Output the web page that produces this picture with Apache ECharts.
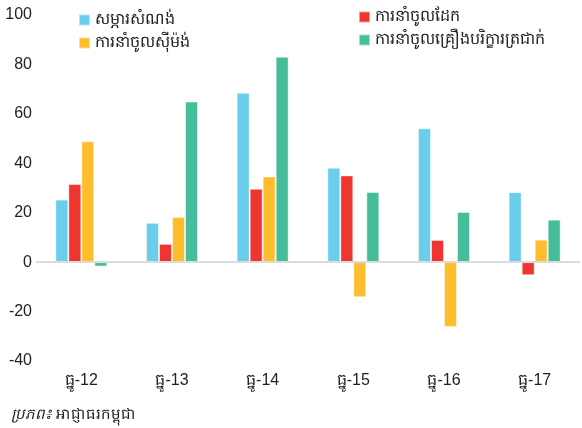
<!DOCTYPE html>
<html>
<head>
<meta charset="utf-8">
<script src="https://cdn.jsdelivr.net/npm/echarts@6/dist/echarts.min.js"></script>
<style>
html,body{margin:0;padding:0;background:#fff;}
#main{width:582px;height:428px;}
</style>
</head>
<body>
<div id="main"></div>
<script>
var months = ['ធ្នូ-12', 'ធ្នូ-13', 'ធ្នូ-14', 'ធ្នូ-15', 'ធ្នូ-16', 'ធ្នូ-17'];
var seriesNames = ['សម្ភារសំណង់', 'ការនាំចូលដែក', 'ការនាំចូលស៊ីម៉ង់', 'ការនាំចូលគ្រឿងបរិក្ខារត្រជាក់'];
var materials = [25.3, 15.9, 68.5, 38.2, 54.2, 28.3];
var steel = [31.6, 7.4, 29.7, 35.1, 9.0, -5.3];
var cement = [48.9, 18.3, 34.7, -14.2, -26.2, 9.1];
var cooling = [-1.8, 65.0, 83.1, 28.4, 20.3, 17.2];
var colors = ['#6acdeb', '#ee3530', '#fdbd2c', '#45bd9b'];

var myChart = echarts.init(document.getElementById('main'));
var values = [materials, steel, cement, cooling];
var series = [];
for (var i = 0; i < values.length; i++) {
    series.push({
        name: seriesNames[i],
        type: 'bar',
        data: values[i],
        barWidth: 13,
        barGap: '0%',
        itemStyle: {color: colors[i], borderColor: 'rgba(255,255,255,0.5)', borderWidth: 1}
    });
}
var legendText = {fontSize: 16, color: '#222', fontFamily: 'Liberation Sans'};
var option = {
    animation: false,
    textStyle: {fontFamily: 'Liberation Sans'},
    legend: [{
        data: [seriesNames[0], seriesNames[2]],
        orient: 'vertical',
        left: 73, top: 7,
        itemWidth: 11, itemHeight: 11, itemGap: 7,
        icon: 'rect',
        textStyle: legendText
    }, {
        data: [seriesNames[1], seriesNames[3]],
        orient: 'vertical',
        left: 353, top: 4,
        itemWidth: 11, itemHeight: 11, itemGap: 7,
        icon: 'rect',
        textStyle: legendText
    }],
    title: {
        text: '{i|ប្រភព៖} អាជ្ញាធរកម្ពុជា',
        left: 6, top: 402,
        textStyle: {
            fontSize: 15, fontWeight: 'normal', color: '#222', fontFamily: 'Liberation Sans',
            rich: {i: {fontSize: 15, fontStyle: 'italic', color: '#222', fontFamily: 'Liberation Sans'}}
        }
    },
    grid: {left: 36, right: 2, top: 15, bottom: 67, containLabel: false},
    xAxis: {
        type: 'category',
        data: months,
        axisLine: {show: false},
        axisTick: {show: false},
        axisLabel: {fontSize: 16, color: '#222', margin: 12, fontFamily: 'Liberation Sans'}
    },
    yAxis: {
        type: 'value',
        min: -40, max: 100, interval: 20,
        splitLine: {show: false},
        axisLine: {show: false},
        axisTick: {show: false},
        axisLabel: {fontSize: 16, color: '#222', margin: 4, fontFamily: 'Liberation Sans'}
    },
    series: series
};
series[0].markLine = {
    silent: true, symbol: 'none', label: {show: false},
    lineStyle: {color: '#dcdcdc', width: 2, type: 'solid'},
    data: [{yAxis: 0}]
};
myChart.setOption(option);
</script>
</body>
</html>
